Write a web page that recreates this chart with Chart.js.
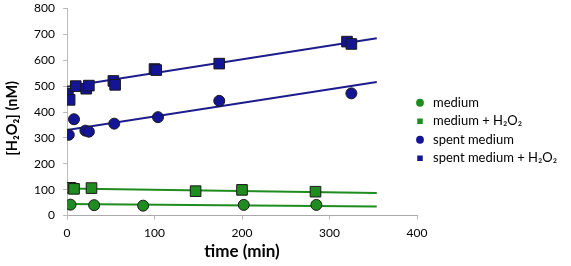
<!DOCTYPE html>
<html lang="en">
<head>
    <meta charset="UTF-8">
    <title>H2O2 over time</title>
    <script src="https://cdn.jsdelivr.net/npm/chart.js"></script>
    <style>
        body {
            margin: 0;
            padding: 0;
            background-color: white;
        }
    </style>
</head>
<body>
    <canvas id="h2o2Chart" width="571" height="266"></canvas>

    <script>
        // data (time in min, concentration in nM)
        const mediumTime = [4, 31, 87, 202, 285];
        const medium = [42, 40, 38, 41, 41];

        const mediumH2O2Time = [4, 8, 28, 147, 200, 284];
        const mediumH2O2 = [107, 103, 106, 94, 99, 92];

        const spentTime = [2, 8, 21, 25, 54, 104, 174, 325];
        const spent = [312, 372, 328, 324, 355, 380, 443, 472];

        const spentH2O2Time = [1, 3, 10, 22, 25, 53, 55, 100, 102, 174, 320, 325];
        const spentH2O2 = [470, 447, 500, 490, 502, 520, 505, 566, 562, 587, 672, 663];

        // linear trendlines, start and end values
        const trendTime = [0, 354];
        const trendMedium = [44, 35];
        const trendMediumH2O2 = [104, 87];
        const trendSpent = [330, 516];
        const trendSpentH2O2 = [498, 685];

        const green = '#1e8c1e';
        const blue = '#141496';
        const xy = (xs, ys) => xs.map((x, i) => ({ x: x, y: ys[i] }));

        function points(label, xs, ys, color, style, radius) {
            return {
                label: label,
                data: xy(xs, ys),
                backgroundColor: color,
                borderColor: '#1a1a1a',
                borderWidth: 1,
                pointStyle: style,
                pointRadius: radius,
                showLine: false,
                order: 1
            };
        }

        function trend(ys, color) {
            return {
                label: '',
                data: xy(trendTime, ys),
                borderColor: color,
                borderWidth: 2,
                pointRadius: 0,
                showLine: true,
                order: 2
            };
        }

        // nudge the legend so it sits close to the plot like the original
        const legendNudge = {
            id: 'legendNudge',
            afterLayout(chart) {
                const lg = chart.legend;
                const dx = lg.left - (chart.chartArea.right - 9);
                lg.left -= dx;
                lg.right -= dx;
                lg.top -= 3;
                lg.bottom -= 3;
            }
        };

        Chart.defaults.font.family = 'Lato, "Noto Sans", sans-serif';
        Chart.defaults.color = '#000';

        new Chart(document.getElementById('h2o2Chart'), {
            type: 'scatter',
            data: {
                datasets: [
                    points('medium', mediumTime, medium, green, 'circle', 5.5),
                    points('medium + H₂O₂', mediumH2O2Time, mediumH2O2, green, 'rect', 7.5),
                    points('spent medium', spentTime, spent, blue, 'circle', 5.5),
                    points('spent medium + H₂O₂', spentH2O2Time, spentH2O2, blue, 'rect', 7.5),
                    trend(trendMedium, green),
                    trend(trendMediumH2O2, green),
                    trend(trendSpent, '#1c1c8c'),
                    trend(trendSpentH2O2, '#1c1c8c')
                ]
            },
            plugins: [legendNudge],
            options: {
                responsive: false,
                animation: false,
                devicePixelRatio: 1,
                layout: { padding: { top: 1, left: 0, right: 0, bottom: 0 } },
                plugins: {
                    tooltip: { enabled: false },
                    legend: {
                        position: 'right',
                        maxWidth: 154,
                        labels: {
                            usePointStyle: true,
                            boxHeight: 5.5,
                            padding: 5.5,
                            font: { size: 13 },
                            generateLabels: chart => chart.data.datasets
                                .map((ds, i) => ({
                                    text: ds.label,
                                    fillStyle: ds.backgroundColor,
                                    strokeStyle: ds.backgroundColor,
                                    lineWidth: 0,
                                    pointStyle: ds.pointStyle,
                                    datasetIndex: i,
                                    hidden: false
                                }))
                                .filter(item => item.text !== '')
                        }
                    }
                },
                scales: {
                    x: {
                        min: 0,
                        max: 400,
                        ticks: { stepSize: 100, padding: 6, font: { size: 12 } },
                        grid: { drawOnChartArea: false, tickLength: 4, color: '#bbb' },
                        border: { color: '#aaa' },
                        title: {
                            display: true,
                            text: 'time (min)',
                            font: { size: 17, weight: 'bold' },
                            padding: { top: 2, bottom: 4 }
                        },
                        afterFit: scale => { scale.height = 50.5; }
                    },
                    y: {
                        min: 0,
                        max: 800,
                        ticks: { stepSize: 100, padding: 8, font: { size: 12 } },
                        grid: { drawOnChartArea: false, tickLength: 4, color: '#bbb' },
                        border: { color: '#bbb' },
                        title: {
                            display: true,
                            text: '[H₂O₂] (nM)\u2003\u2009',
                            font: { size: 14.5, weight: 'bold' },
                            padding: { top: 4, bottom: 2 }
                        },
                        afterFit: scale => {
                            scale.width = 67;
                            scale.paddingTop = 7;
                        }
                    }
                }
            }
        });
    </script>
</body>
</html>
